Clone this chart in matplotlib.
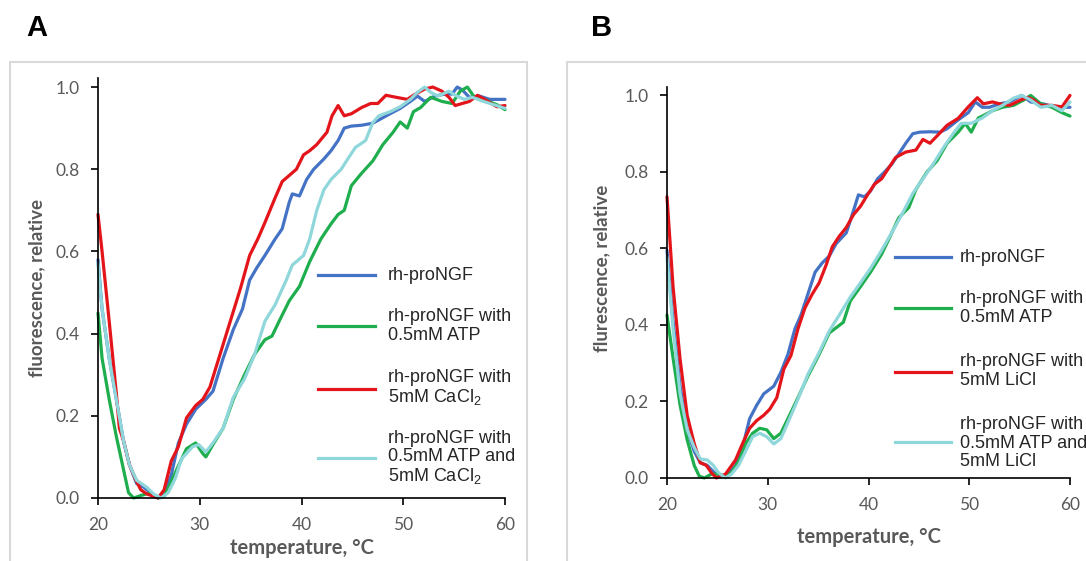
import numpy as np
import matplotlib
matplotlib.use("Agg")
import matplotlib.pyplot as plt
from matplotlib.lines import Line2D
from matplotlib.patches import Rectangle

# ---- data (temperature in C, relative fluorescence) ----
# panel A
a_blue = [(20.0, 0.58), (20.4, 0.46), (21.1, 0.34), (21.8, 0.24), (22.5, 0.14), (23.1, 0.08),
          (23.8, 0.035), (24.5, 0.026), (25.2, 0.013), (25.9, 0.0), (26.5, 0.01), (27.2, 0.056),
          (27.9, 0.134), (28.7, 0.18), (29.6, 0.216), (30.6, 0.24), (31.3, 0.26), (32.3, 0.34),
          (33.3, 0.41), (34.2, 0.46), (34.9, 0.53), (35.6, 0.56), (36.4, 0.59), (37.4, 0.63),
          (38.1, 0.655), (38.8, 0.72), (39.1, 0.74), (39.8, 0.735), (40.5, 0.775), (41.2, 0.80),
          (42.2, 0.825), (42.9, 0.845), (43.6, 0.87), (44.2, 0.90), (44.9, 0.905), (45.9, 0.907),
          (47.0, 0.912), (47.6, 0.92), (48.7, 0.935), (49.7, 0.948), (50.7, 0.965), (51.4, 0.978),
          (52.1, 0.965), (53.1, 0.978), (54.1, 0.983), (54.8, 0.983), (55.3, 1.0), (55.8, 0.993),
          (56.5, 0.975), (57.5, 0.978), (58.5, 0.97), (60.0, 0.97)]
a_green = [(20.0, 0.45), (20.4, 0.34), (21.1, 0.24), (21.8, 0.15), (22.5, 0.07), (23.0, 0.013),
           (23.5, 0.0), (24.2, 0.006), (25.2, 0.013), (25.9, 0.0), (26.5, 0.004), (27.2, 0.04),
           (27.9, 0.078), (28.7, 0.12), (29.6, 0.134), (30.3, 0.108), (30.6, 0.10), (31.3, 0.13),
           (32.3, 0.17), (33.3, 0.24), (34.4, 0.30), (35.4, 0.35), (36.4, 0.385), (37.1, 0.394),
           (37.8, 0.43), (38.8, 0.48), (39.8, 0.515), (40.8, 0.575), (41.9, 0.63), (42.9, 0.667),
           (43.6, 0.69), (44.2, 0.70), (44.9, 0.76), (45.9, 0.79), (47.0, 0.82), (48.0, 0.86),
           (49.0, 0.89), (49.7, 0.915), (50.4, 0.90), (51.0, 0.94), (51.7, 0.95), (52.7, 0.975),
           (53.8, 0.965), (54.8, 0.96), (55.6, 0.99), (56.3, 1.0), (57.0, 0.975), (57.9, 0.97),
           (59.2, 0.957), (60.0, 0.945)]
a_red = [(20.0, 0.69), (20.4, 0.60), (21.1, 0.43), (21.8, 0.255), (22.1, 0.17), (22.5, 0.14),
         (23.1, 0.08), (23.8, 0.04), (24.2, 0.02), (24.8, 0.01), (25.9, 0.0), (26.5, 0.02),
         (27.2, 0.09), (27.9, 0.125), (28.7, 0.195), (29.6, 0.225), (30.3, 0.24), (31.0, 0.27),
         (32.0, 0.35), (33.0, 0.43), (34.0, 0.51), (34.9, 0.59), (35.7, 0.63), (36.4, 0.67),
         (37.4, 0.73), (38.1, 0.77), (38.8, 0.785), (39.5, 0.80), (40.2, 0.835), (40.8, 0.845),
         (41.5, 0.86), (42.5, 0.89), (43.0, 0.93), (43.6, 0.955), (44.2, 0.93), (44.9, 0.935),
         (45.9, 0.95), (46.8, 0.96), (47.5, 0.96), (48.3, 0.98), (49.3, 0.975), (50.4, 0.97),
         (51.0, 0.98), (52.1, 0.995), (52.9, 1.0), (53.8, 0.99), (54.5, 0.975), (55.1, 0.955),
         (55.8, 0.96), (56.5, 0.965), (57.3, 0.98), (58.2, 0.967), (59.2, 0.952), (60.0, 0.955)]
a_cyan = [(20.0, 0.57), (20.4, 0.46), (21.1, 0.34), (21.8, 0.24), (22.5, 0.14), (23.1, 0.08),
          (23.8, 0.043), (24.8, 0.026), (25.5, 0.009), (26.2, 0.0), (26.9, 0.013), (27.6, 0.048),
          (28.2, 0.095), (29.3, 0.125), (29.9, 0.13), (30.6, 0.112), (31.3, 0.134), (32.3, 0.17),
          (33.3, 0.245), (34.4, 0.29), (35.4, 0.35), (36.4, 0.43), (37.4, 0.47), (38.5, 0.53),
          (39.1, 0.567), (40.2, 0.59), (40.8, 0.63), (41.5, 0.70), (42.2, 0.75), (42.9, 0.775),
          (43.9, 0.80), (44.6, 0.827), (45.3, 0.853), (46.3, 0.87), (47.0, 0.913), (47.6, 0.93),
          (48.7, 0.94), (49.7, 0.952), (50.7, 0.97), (51.4, 0.987), (52.1, 1.0), (52.7, 0.987),
          (53.4, 0.978), (54.5, 0.99), (55.1, 0.98), (56.0, 0.97), (56.8, 0.975), (57.9, 0.965),
          (58.9, 0.957), (60.0, 0.948)]

# panel B
b_blue = [(20.0, 0.595), (20.6, 0.41), (21.3, 0.24), (22.0, 0.126), (22.7, 0.07), (23.3, 0.04),
          (24.0, 0.033), (24.7, 0.014), (25.4, 0.005), (26.1, 0.01), (26.8, 0.033), (27.5, 0.08),
          (28.2, 0.155), (28.9, 0.19), (29.6, 0.22), (30.6, 0.24), (31.3, 0.276), (32.0, 0.323),
          (32.7, 0.39), (33.3, 0.426), (34.0, 0.482), (34.7, 0.538), (35.4, 0.562), (36.1, 0.58),
          (36.8, 0.613), (37.8, 0.641), (38.5, 0.698), (39.0, 0.74), (39.6, 0.735), (40.2, 0.75),
          (40.9, 0.782), (41.6, 0.80), (42.3, 0.82), (43.0, 0.847), (43.7, 0.875), (44.4, 0.90),
          (45.1, 0.904), (46.1, 0.905), (47.1, 0.904), (47.8, 0.913), (48.9, 0.936), (49.9, 0.955),
          (50.6, 0.983), (51.3, 0.969), (52.0, 0.969), (53.0, 0.978), (54.0, 0.983), (55.2, 1.0),
          (56.1, 0.983), (57.5, 0.977), (58.5, 0.969), (60.0, 0.969)]
b_green = [(20.0, 0.426), (20.6, 0.314), (21.3, 0.19), (22.0, 0.10), (22.7, 0.033), (23.2, 0.005),
           (23.7, 0.0), (24.4, 0.01), (25.1, 0.01), (25.8, 0.005), (26.4, 0.014), (27.1, 0.042),
           (27.8, 0.09), (28.5, 0.117), (29.2, 0.13), (29.9, 0.126), (30.6, 0.103), (31.3, 0.117),
           (32.0, 0.155), (33.0, 0.21), (34.0, 0.267), (35.1, 0.323), (36.1, 0.379), (36.8, 0.393),
           (37.5, 0.407), (38.2, 0.463), (39.2, 0.50), (40.2, 0.538), (41.3, 0.585), (42.0, 0.623),
           (43.0, 0.68), (44.0, 0.707), (44.7, 0.754), (45.8, 0.80), (46.8, 0.829), (47.8, 0.875),
           (48.9, 0.904), (49.6, 0.927), (50.2, 0.904), (50.9, 0.941), (51.6, 0.95), (52.3, 0.96),
           (53.3, 0.969), (54.4, 0.974), (55.4, 0.988), (56.1, 1.0), (57.1, 0.978), (58.2, 0.969),
           (59.2, 0.955), (60.0, 0.946)]
b_red = [(20.0, 0.735), (20.6, 0.50), (21.3, 0.31), (22.0, 0.164), (22.7, 0.09), (23.3, 0.04),
         (23.9, 0.033), (24.4, 0.014), (24.9, 0.0), (25.8, 0.01), (26.8, 0.047), (27.5, 0.09),
         (28.2, 0.13), (28.9, 0.15), (29.6, 0.164), (30.2, 0.18), (30.9, 0.21), (31.6, 0.285),
         (32.3, 0.32), (33.0, 0.39), (33.7, 0.445), (34.4, 0.48), (35.1, 0.51), (35.8, 0.557),
         (36.4, 0.604), (37.1, 0.632), (37.8, 0.655), (38.5, 0.688), (39.2, 0.71), (39.9, 0.74),
         (40.6, 0.768), (41.3, 0.782), (42.0, 0.81), (42.7, 0.838), (43.7, 0.852), (44.7, 0.857),
         (45.4, 0.885), (46.1, 0.875), (46.8, 0.894), (47.8, 0.922), (48.9, 0.94), (49.9, 0.97),
         (50.8, 0.994), (51.4, 0.978), (52.3, 0.983), (53.0, 0.978), (54.0, 0.974), (55.1, 0.988),
         (55.8, 0.995), (56.4, 0.988), (57.1, 0.974), (58.2, 0.974), (59.2, 0.97), (60.0, 1.0)]
b_cyan = [(20.0, 0.576), (20.6, 0.39), (21.3, 0.22), (22.0, 0.126), (22.7, 0.08), (23.3, 0.05),
          (24.0, 0.047), (24.6, 0.033), (25.1, 0.014), (25.8, 0.0), (26.4, 0.01), (27.1, 0.033),
          (27.8, 0.07), (28.5, 0.108), (29.2, 0.117), (29.9, 0.108), (30.6, 0.089), (31.3, 0.103),
          (32.0, 0.145), (33.0, 0.206), (34.0, 0.272), (35.1, 0.328), (36.1, 0.384), (37.1, 0.426),
          (38.2, 0.473), (39.2, 0.51), (40.2, 0.548), (41.3, 0.595), (42.3, 0.641), (43.3, 0.688),
          (44.4, 0.744), (45.4, 0.782), (46.4, 0.82), (47.5, 0.866), (48.5, 0.904), (49.2, 0.927),
          (50.2, 0.927), (51.3, 0.941), (52.3, 0.96), (53.3, 0.974), (54.4, 0.993), (55.2, 1.0),
          (56.1, 0.988), (57.1, 0.969), (58.2, 0.974), (59.2, 0.96), (60.0, 0.983)]

labels_a = ["rh-proNGF", "rh-proNGF with\n0.5mM ATP", "rh-proNGF with\n5mM CaCl$_2$",
            "rh-proNGF with\n0.5mM ATP and\n5mM CaCl$_2$"]
labels_b = ["rh-proNGF", "rh-proNGF with\n0.5mM ATP", "rh-proNGF with\n5mM LiCl",
            "rh-proNGF with\n0.5mM ATP and\n5mM LiCl"]
xticks = [20, 30, 40, 50, 60]
yticks = [0.0, 0.2, 0.4, 0.6, 0.8, 1.0]

colors = ["#4472c4", "#1fae4e", "#e3151b", "#8fd7da"]
gray = "#595959"
W, H = 1086, 561

plt.rcParams['font.family'] = ['Lato', 'DejaVu Sans']
plt.rcParams['mathtext.fontset'] = 'custom'
plt.rcParams['mathtext.rm'] = 'Liberation Sans'

fig = plt.figure(figsize=(W / 100, H / 100), dpi=100)


def fx(px):
    return px / W


def fy(py):
    return 1 - py / H


# grey frames around panels
fig.add_artist(Rectangle((fx(10), fy(600)), fx(517), fy(62) - fy(600), transform=fig.transFigure,
                         fill=False, ec="#d9d9d9", lw=1.5))
fig.add_artist(Rectangle((fx(567), fy(600)), fx(600), fy(62) - fy(600), transform=fig.transFigure,
                         fill=False, ec="#d9d9d9", lw=1.5))


def panel(rect, series):
    ax = fig.add_axes(rect)
    for s, c in zip(series, colors):
        t, v = zip(*s)
        ax.plot(t, v, color=c, lw=2.3, solid_joinstyle='round', solid_capstyle='round',
                clip_on=False)
    ax.set_xlim(20, 60)
    ax.set_ylim(0, 1.022)
    ax.set_xticks(xticks)
    ax.set_yticks(yticks)
    ax.set_yticklabels(["%.1f" % y for y in yticks])
    for sp in ['top', 'right']:
        ax.spines[sp].set_visible(False)
    for sp in ['left', 'bottom']:
        ax.spines[sp].set_linewidth(1.2)
    ax.tick_params(direction='out', length=5, width=1.2, colors='black', labelcolor=gray,
                   labelsize=12.5)
    ax.tick_params(axis='y', pad=8)
    ax.tick_params(axis='x', pad=9)
    return ax


axa = panel([fx(98), fy(498), fx(505) - fx(98), fy(78) - fy(498)],
            [a_blue, a_green, a_red, a_cyan])
axb = panel([fx(667), fy(478), fx(1070) - fx(667), fy(87) - fy(478)],
            [b_blue, b_green, b_red, b_cyan])

# axis titles
lab = dict(color=gray, fontweight='bold', ha='center', va='center')
fig.text(fx(302), fy(548), "temperature, °C", fontsize=14.5, **lab)
fig.text(fx(869), fy(537), "temperature, °C", fontsize=14.5, **lab)
fig.text(fx(37), fy(288), "fluorescence, relative", rotation=90, fontsize=13.5, **lab)
fig.text(fx(602), fy(268), "flurescence, relative", rotation=90, fontsize=13.5, **lab)

# panel letters
fig.text(fx(37), fy(28), "A", fontsize=21, fontweight='bold', family='Liberation Sans',
         ha='center', va='center')
fig.text(fx(602), fy(28), "B", fontsize=21, fontweight='bold', family='Liberation Sans',
         ha='center', va='center')


# hand placed legends
def legend(x0, x1, xt, ys_line, ys_text, labels):
    for yl, yt, lb, c in zip(ys_line, ys_text, labels, colors):
        fig.add_artist(Line2D([fx(x0), fx(x1)], [fy(yl), fy(yl)], color=c, lw=2.3,
                              transform=fig.transFigure))
        fig.text(fx(xt), fy(yt), lb, fontsize=13, family='Liberation Sans', color='#262626',
                 ha='left', va='center', linespacing=1.1)


legend(318, 375, 388, [275, 326, 389, 458], [275, 326, 388, 458], labels_a)
legend(895, 951, 960, [257, 308, 372, 442], [257, 308, 371, 443], labels_b)

fig.savefig("out.png", dpi=100)
